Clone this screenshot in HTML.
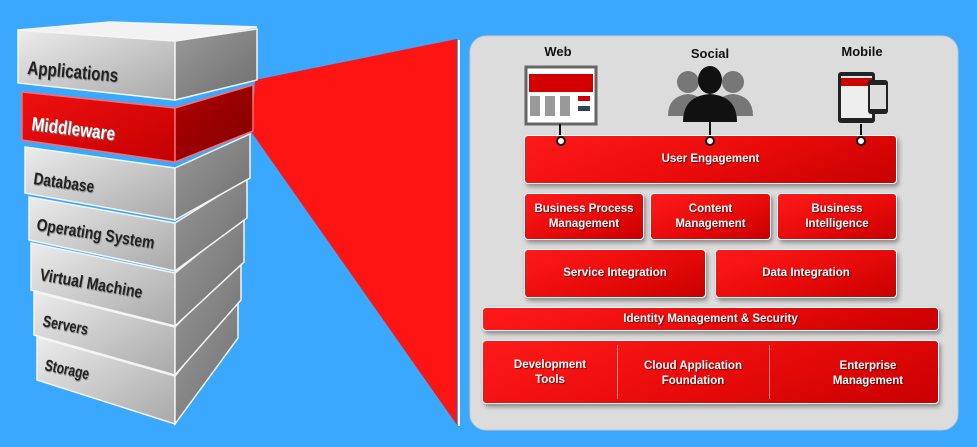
<!DOCTYPE html>
<html><head><meta charset="utf-8"><style>
body{margin:0;width:977px;height:447px;background:#3aa8ff;position:relative;overflow:hidden;font-family:"Liberation Sans",sans-serif}
.b{position:absolute;background:linear-gradient(160deg,#ff1a1a 0%,#e80a0a 55%,#c80000 100%);border:1.5px solid #fff;border-radius:4px;box-shadow:2px 3px 4px rgba(0,0,0,.35);color:#fff;font-weight:bold;font-size:11.5px;display:flex;align-items:center;justify-content:center;text-align:center;line-height:15px;text-shadow:1px 1px 1px rgba(0,0,0,.5);box-sizing:border-box}
.lbl{position:absolute;font-weight:bold;font-size:13px;color:#111;transform:translateX(-50%)}
</style></head><body>
<svg width="977" height="447" style="position:absolute;left:0;top:0">
<defs>
<linearGradient id="gf" x1="0" y1="0" x2="1" y2="1"><stop offset="0" stop-color="#ececec"/><stop offset="1" stop-color="#a8a8a8"/></linearGradient>
<linearGradient id="gr" x1="0" y1="0" x2="1" y2="1"><stop offset="0" stop-color="#9a9a9a"/><stop offset="1" stop-color="#6e6e6e"/></linearGradient>
<linearGradient id="rf" x1="0" y1="0" x2="1" y2="1"><stop offset="0" stop-color="#f01010"/><stop offset="1" stop-color="#c40000"/></linearGradient>
<linearGradient id="rr" x1="0" y1="0" x2="1" y2="1"><stop offset="0" stop-color="#b00000"/><stop offset="1" stop-color="#800000"/></linearGradient>
</defs>
<polygon points="255,80 457,39 457,425 252,133" fill="#ff1414"/>
<line x1="459" y1="40" x2="459" y2="426" stroke="#fff" stroke-width="2"/>
<rect x="470" y="36" width="488" height="394" rx="16" fill="#dcdcdc" stroke="#c8c8c8"/>
<g stroke="#f4f4f4" stroke-width="1.5">
<polygon points="37,337 175,376 175,424 37,380" fill="url(#gf)"/><polygon points="175,376 238,298 238,338 175,424" fill="url(#gr)"/>
<polygon points="34,292 175,327 175,375 34,335" fill="url(#gf)"/><polygon points="175,327 241,260 241,300 175,375" fill="url(#gr)"/>
<polygon points="31,243 175,273 175,326 31,290" fill="url(#gf)"/><polygon points="175,273 244,217 244,262 175,326" fill="url(#gr)"/>
<polygon points="29,197 175,223 175,271 29,240" fill="url(#gf)"/><polygon points="175,223 247,178 247,218 175,271" fill="url(#gr)"/>
<polygon points="25,147 175,168 175,220 25,193" fill="url(#gf)"/><polygon points="175,168 250,134 250,178 175,220" fill="url(#gr)"/>
<polygon points="22,92 175,108 175,162 22,140" fill="url(#rf)" stroke="#ff6a6a"/><polygon points="175,108 253,85 253,131 175,162" fill="url(#rr)" stroke="#ff6a6a"/>
<polygon points="18,30 175,41 175,100 18,83" fill="url(#gf)"/><polygon points="175,41 257,29 257,80 175,100" fill="url(#gr)"/>
<polygon points="18,30 110,22 257,27 175,41" fill="#f2f2f2"/>
</g>
<g font-family="'Liberation Sans',sans-serif" font-weight="bold" font-size="19" fill="#222" lengthAdjust="spacingAndGlyphs" style="text-shadow:1px 1px 1px #888">
<text x="27" y="74" transform="rotate(5 27 74)" textLength="91" lengthAdjust="spacingAndGlyphs">Applications</text>
<text x="31" y="130" transform="rotate(7 31 130)" fill="#fff" textLength="84" lengthAdjust="spacingAndGlyphs">Middleware</text>
<text x="33" y="184" transform="rotate(8 33 184)" font-size="17" textLength="61" lengthAdjust="spacingAndGlyphs">Database</text>
<text x="36" y="230" transform="rotate(9 36 230)" font-size="17" textLength="119" lengthAdjust="spacingAndGlyphs">Operating System</text>
<text x="39" y="280" transform="rotate(10 39 280)" font-size="17" textLength="104" lengthAdjust="spacingAndGlyphs">Virtual Machine</text>
<text x="42" y="326" transform="rotate(11 42 326)" font-size="16" textLength="46" lengthAdjust="spacingAndGlyphs">Servers</text>
<text x="44" y="370" transform="rotate(12 44 370)" font-size="16" textLength="45" lengthAdjust="spacingAndGlyphs">Storage</text>
</g>
<rect x="526" y="67" width="70" height="57" fill="#fff" stroke="#666" stroke-width="3"/>
<rect x="529" y="74" width="64" height="18" fill="#d40000"/>
<g fill="#999"><rect x="530" y="96" width="10" height="20"/><rect x="545" y="96" width="10" height="20"/><rect x="560" y="96" width="10" height="20"/><rect x="578" y="96" width="12" height="5" fill="#c00"/><rect x="578" y="106" width="12" height="5" fill="#345"/></g>
<g fill="#777"><circle cx="688" cy="82" r="11"/><path d="M668,116 q0,-20 20,-22 q20,2 20,22z"/><circle cx="733" cy="82" r="11"/><path d="M713,116 q0,-20 20,-22 q20,2 20,22z"/></g>
<g fill="#111"><ellipse cx="710" cy="80" rx="12" ry="14"/><path d="M683,122 q0,-26 27,-28 q27,2 27,28z"/></g>
<rect x="838" y="72" width="37" height="51" rx="3" fill="#222"/><rect x="841" y="76" width="31" height="42" fill="#eee"/><rect x="841" y="78" width="31" height="8" fill="#c00"/>
<rect x="868" y="80" width="20" height="34" rx="3" fill="#222"/><rect x="870" y="85" width="16" height="24" fill="#ddd"/>
<g stroke="#111" stroke-width="2"><line x1="560" y1="124" x2="560" y2="140"/><line x1="710" y1="122" x2="710" y2="140"/><line x1="861" y1="124" x2="861" y2="140"/></g>
</svg>
<div class="lbl" style="left:558px;top:44px">Web</div>
<div class="lbl" style="left:710px;top:46px">Social</div>
<div class="lbl" style="left:862px;top:44px">Mobile</div>
<div class="b" style="left:524px;top:135px;width:373px;height:49px">User Engagement</div>
<svg width="977" height="160" style="position:absolute;left:0;top:0"><g fill="#fff" stroke="#111" stroke-width="2"><circle cx="561" cy="141" r="4"/><circle cx="710" cy="141" r="4"/><circle cx="861" cy="141" r="4"/></g></svg>
<div class="b" style="left:524px;top:193px;width:120px;height:47px">Business Process<br>Management</div>
<div class="b" style="left:650px;top:193px;width:121px;height:47px">Content<br>Management</div>
<div class="b" style="left:777px;top:193px;width:120px;height:47px">Business<br>Intelligence</div>
<div class="b" style="left:524px;top:249px;width:182px;height:49px">Service Integration</div>
<div class="b" style="left:715px;top:249px;width:182px;height:49px">Data Integration</div>
<div class="b" style="left:482px;top:307px;width:457px;height:24px">Identity Management &amp; Security</div>
<div class="b" style="left:482px;top:340px;width:457px;height:64px;justify-content:flex-start">
<div style="position:absolute;left:0;width:134px;top:17px">Development<br>Tools</div>
<div style="position:absolute;left:134px;top:4px;bottom:4px;border-left:1px solid rgba(255,255,255,.5)"></div>
<div style="position:absolute;left:134px;width:152px;top:18px">Cloud Application<br>Foundation</div>
<div style="position:absolute;left:286px;top:4px;bottom:4px;border-left:1px solid rgba(255,255,255,.5)"></div>
<div style="position:absolute;left:320px;width:130px;top:18px">Enterprise<br>Management</div>
</div>
</body></html>
